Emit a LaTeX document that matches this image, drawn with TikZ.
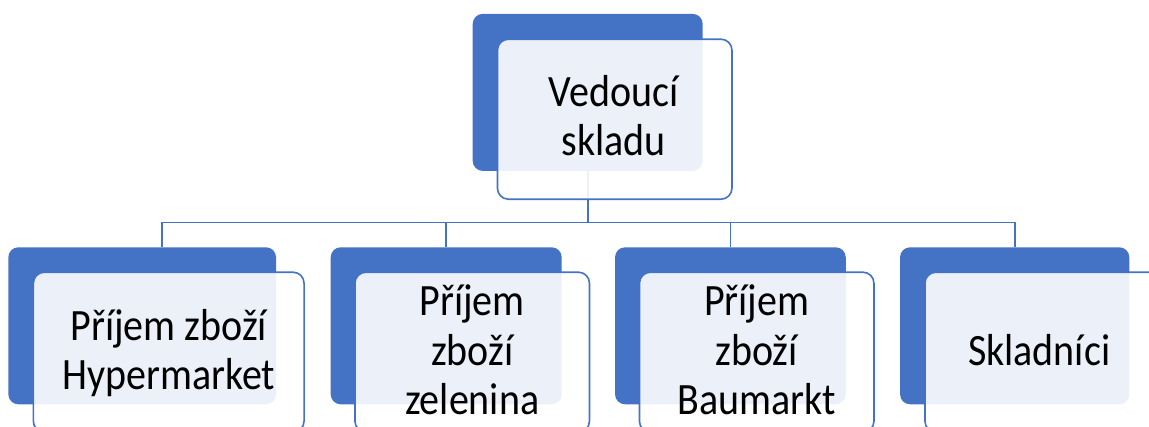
\documentclass[tikz,border=0pt]{standalone}
\usepackage{fontspec}
\setmainfont{Carlito}
\usetikzlibrary{calc}
\definecolor{accent}{HTML}{4472C4}
\newcommand{\boxlabel}[1]{\scalebox{1}[1.12]{\begin{tabular}{@{}c@{}}#1\end{tabular}}}
\tikzset{
  backbox/.style={rectangle, rounded corners=10pt, fill=accent, draw=none,
    inner sep=0pt, minimum height=157pt},
  frontbox/.style={rectangle, rounded corners=11pt, fill=white, fill opacity=0.9,
    draw=accent, line width=1.6pt, inner sep=0pt, minimum width=234.5pt,
    minimum height=160pt},
  boxtext/.style={inner sep=0pt, text=black, font=\fontsize{40}{44}\selectfont},
  link/.style={draw=accent, line width=1.8pt}
}
\begin{document}
\begin{tikzpicture}[x=1pt, y=-1pt]
  \useasboundingbox (0,0) rectangle (1149,426);
  \clip (0,0) rectangle (1149,426);
  \fill[white] (0,0) rectangle (1149,426);

  % back (solid) panels
  \node[backbox, minimum width=230pt]   (topb) at (587.7,92.4) {};
  \node[backbox, minimum width=267.7pt] (c1b)  at (142.2,325.8) {};
  \node[backbox, minimum width=231pt]   (c2b)  at (446.2,325.8) {};
  \node[backbox, minimum width=230.7pt] (c3b)  at (730.4,325.8) {};
  \node[backbox, minimum width=229.3pt] (c4b)  at (1014.7,325.8) {};

  % connectors
  \coordinate (bus) at (588,222.5);
  \coordinate (c1top) at (161.7,247.3);
  \draw[link] (topb.south) -- (topb.south |- bus) -| (c1top);
  \draw[link] (topb.south |- bus) -| (c2b.north);
  \draw[link] (topb.south |- bus) -| (c3b.north);
  \draw[link] (topb.south |- bus) -| (c4b.north);

  % front (translucent) panels
  \node[frontbox] (topf) at (614.7,119.2) {};
  \node[frontbox, minimum width=270.7pt] (c1f) at (168.7,352.2) {};
  \node[frontbox] (c2f) at (472.2,352.2) {};
  \node[frontbox] (c3f) at (756.7,352.2) {};
  \node[frontbox] (c4f) at (1042.2,352.2) {};

  % labels
  \node[boxtext] (topt) at ($(topf.center)+(-1,2)$) {\boxlabel{Vedoucí\\skladu}};
  \node[boxtext] (c1t) at ($(c1f.center)+(0,3)$) {\boxlabel{Příjem zboží\\Hypermarket}};
  \node[boxtext] (c2t) at ($(c2f.center)+(0,3)$) {\boxlabel{Příjem\\zboží\\zelenina}};
  \node[boxtext] (c3t) at ($(c3f.center)+(0,3)$) {\boxlabel{Příjem\\zboží\\Baumarkt}};
  \node[boxtext] (c4t) at ($(c4f.center)+(-3,3)$) {\boxlabel{Skladníci}};
\end{tikzpicture}
\end{document}
